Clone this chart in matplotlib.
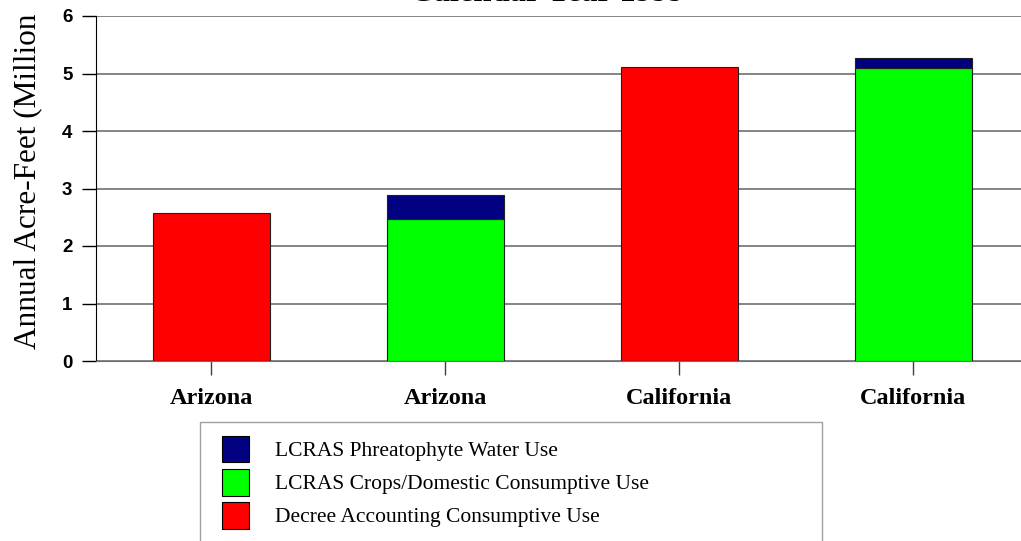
import matplotlib.pyplot as plt
from matplotlib.patches import Patch, Rectangle

# consumptive use by state, millions of acre-feet
estados = ["Arizona", "Arizona", "California", "California"]
decreto = [2.58, 0.0, 5.11, 0.0]
cultivos = [0.0, 2.47, 0.0, 5.09]
freatofitas = [0.0, 0.41, 0.0, 0.18]

series_nombres = ["LCRAS Phreatophyte Water Use",
                  "LCRAS Crops/Domestic Consumptive Use",
                  "Decree Accounting Consumptive Use"]
colores = ["#000080", "#00ff00", "#ff0000"]

fig = plt.figure(figsize=(10.21, 5.41), dpi=100)
ax = fig.add_axes([96 / 1021, 180 / 541, 936 / 1021, 345 / 541])

x = range(len(estados))
ax.bar(x, decreto, width=0.5, color=colores[2], edgecolor="#202020", linewidth=0.8, zorder=3)
ax.bar(x, cultivos, width=0.5, color=colores[1], edgecolor="#202020", linewidth=0.8, zorder=3)
ax.bar(x, freatofitas, bottom=cultivos, width=0.5, color=colores[0],
       edgecolor="#202020", linewidth=0.8, zorder=3)

ax.set_xlim(-0.4915, 3.5085)
ax.set_ylim(0, 6)
ax.set_yticks(range(7))
ax.set_yticklabels([str(i) for i in range(7)], family="Liberation Sans",
                   fontweight="heavy", fontsize=13.5)
ax.set_xticks(list(x))
ax.set_xticklabels(estados, family="Liberation Serif", fontweight="bold", fontsize=17.5)
ax.tick_params(axis="y", direction="out", length=10, width=1, pad=7)
ax.tick_params(axis="x", direction="out", length=10, width=1, pad=9.5, color="#404040")
ax.yaxis.grid(True, color="#707070", linewidth=1.2, zorder=0)

ax.spines["top"].set_visible(False)
ax.spines["right"].set_visible(False)
ax.spines["bottom"].set_color("#707070")
ax.spines["left"].set_color("black")

ax.set_ylabel("Annual Acre-Feet (Million", family="Liberation Serif", fontsize=22.5)
ax.yaxis.set_label_coords(-0.057, 0.52)

fig.text(547 / 1021, 1 - 1 / 541, "Calendar Year 1999", ha="center", va="baseline",
         family="Liberation Serif", fontweight="bold", fontsize=23.5)

# legend frame drawn by hand so it can run off the bottom edge
fig.patches.append(Rectangle((200 / 1021, -0.05), 622 / 1021, 0.05 + 119 / 541,
                             transform=fig.transFigure, facecolor="white",
                             edgecolor="#a0a0a0", linewidth=1))
handles = [Patch(facecolor=c, edgecolor="black", linewidth=0.8) for c in colores]
fig.legend(handles, series_nombres, loc="upper left",
           bbox_to_anchor=(211 / 1021, 1 - 425 / 541), frameon=False,
           prop={"family": "Liberation Serif", "size": 15.5},
           handlelength=1.26, handleheight=1.53, labelspacing=0.3,
           handletextpad=1.22, borderpad=0)

fig.savefig("out.png", dpi=100)
